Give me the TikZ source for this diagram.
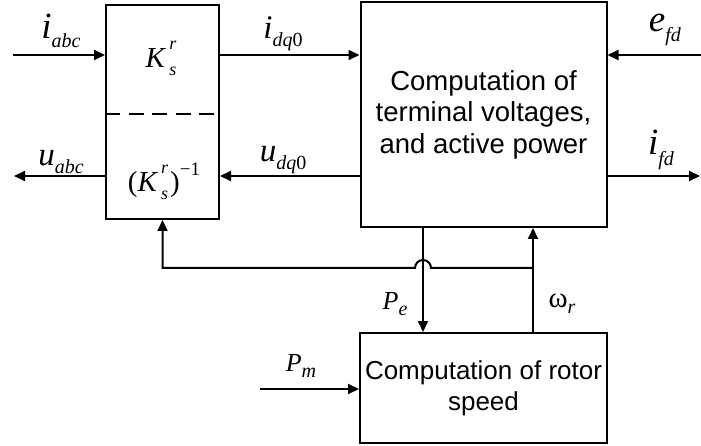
\documentclass[tikz,border=0pt]{standalone}
\usepackage{fontspec}
\setmainfont{Liberation Sans}
\newfontfamily\lblfont{Liberation Serif}
\usetikzlibrary{arrows.meta, positioning}
\newcommand{\sig}[3][0.25em]{\textit{#2}\raisebox{-#1}{\fontsize{20}{20}\selectfont\textit{#3}}}
\newcommand{\kmat}{\textit{K}\hspace{3pt}\rlap{\raisebox{0.62em}{\fontsize{18}{18}\selectfont\textit{r}}}\raisebox{-0.28em}{\fontsize{18}{18}\selectfont\textit{s}}}

\begin{document}
\begin{tikzpicture}[x=1pt, y=-1pt,
  blockbox/.style={draw, line width=2pt, align=center, inner sep=0pt, font=\fontsize{26}{31}\selectfont},
  sigline/.style={line width=2pt, -{Triangle[length=11pt,width=10pt]}},
  lbl/.style={inner sep=0pt, font=\lblfont\fontsize{33}{33}\selectfont},
  biglbl/.style={inner sep=0pt, font=\lblfont\fontsize{37}{37}\selectfont},
  smalllbl/.style={inner sep=0pt, font=\lblfont\fontsize{26}{26}\selectfont}]
  \useasboundingbox (0,0) rectangle (701,446);
  % blocks
  \node[blockbox, minimum width=113pt, minimum height=214pt] (trans) at (162.5,112) {};
  \node[blockbox, minimum width=246pt, minimum height=225pt, font=\fontsize{27.5}{31.5}\selectfont] (comp) at (483.5,114.5) {Computation of\\terminal voltages,\\and active power};
  \node[blockbox, minimum width=247pt, minimum height=110pt] (rotor) at (483.5,388) {Computation of rotor\\speed};
  \draw[line width=2pt, dash pattern=on 15pt off 8.5pt] (trans.west |- 0,114) -- (trans.east |- 0,114);
  \node[smalllbl, font=\lblfont\fontsize{29}{29}\selectfont] (kfwd) at (161,58) {\kmat};
  \node[smalllbl, font=\lblfont\fontsize{29}{29}\selectfont] (kinv) at (164,181) {(\kmat\hspace{2pt})\raisebox{0.55em}{\fontsize{19}{19}\selectfont\char"2212 1}};
  % free ends
  \coordinate (iabcin) at (13,55);
  \coordinate (uabcout) at (14,176);
  \coordinate (efdin) at (701,55);
  \coordinate (ifdout) at (700,176);
  \coordinate (pmin) at (260,389);
  \coordinate (wrtap) at (533,268);
  \coordinate (hopR) at (431,268);
  \coordinate (hopL) at (415,268);
  % connectors
  \draw[sigline] (iabcin) -- (iabcin -| trans.west);
  \draw[sigline] (trans.east |- iabcin) -- (comp.west |- iabcin);
  \draw[sigline] (efdin) -- (efdin -| comp.east);
  \draw[sigline] (comp.west |- uabcout) -- (trans.east |- uabcout);
  \draw[sigline] (trans.west |- uabcout) -- (uabcout);
  \draw[sigline] (comp.east |- ifdout) -- (ifdout);
  \draw[sigline] ([xshift=-60.5pt]comp.south) -- ([xshift=-60.5pt]rotor.north);
  \draw[sigline] ([xshift=49.5pt]rotor.north) -- ([xshift=49.5pt]comp.south);
  \draw[sigline] (wrtap) -- (hopR) arc[start angle=0, end angle=180, radius=8pt] -- (hopL) -| (trans.south);
  \draw[sigline] (pmin) -- (pmin -| rotor.west);
  % labels
  \node[biglbl] (iabc) at (61,31) {\sig{i}{abc}};
  \node[lbl] (uabc) at (61,162) {\sig{u}{abc}};
  \node[lbl] (idq) at (283,34) {\sig{i}{dq}\raisebox{-0.25em}{\fontsize{20}{20}\selectfont 0}};
  \node[lbl] (udq) at (283,160) {\sig{u}{dq}\raisebox{-0.25em}{\fontsize{20}{20}\selectfont 0}};
  \node[biglbl] (efd) at (665,30) {\sig[0.28em]{e}{fd}};
  \node[biglbl] (ifd) at (661,150) {\sig[0.28em]{i}{fd}};
  \node[smalllbl] (pe) at (395,304) {\sig{P}{e}};
  \node[smalllbl] (pm) at (301,366) {\sig{P}{m}};
  \node[smalllbl, font=\lblfont\fontsize{29}{29}\selectfont] (wr) at (562,304) {ω\raisebox{-0.2em}{\fontsize{20}{20}\selectfont\textit{r}}};
\end{tikzpicture}
\end{document}
